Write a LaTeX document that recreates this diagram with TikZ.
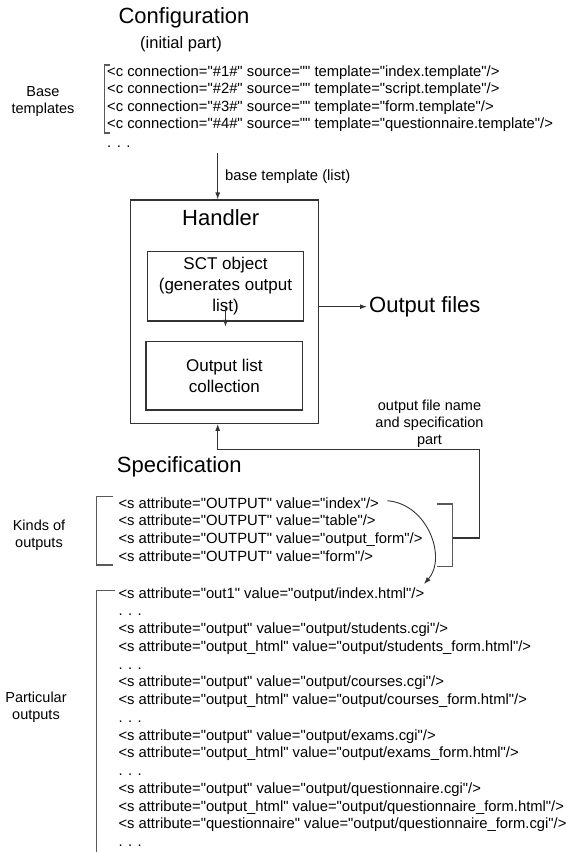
\documentclass[tikz,border=0pt]{standalone}
\usepackage{fontspec}
\setmainfont{Liberation Sans}[Ligatures=TeXOff]
\usetikzlibrary{arrows.meta}
\begin{document}
\begin{tikzpicture}[x=1pt,y=-1pt,
  ln/.style={draw=black!80, line width=1.1pt},
  arr/.style={ln, -{Latex[length=7pt,width=5pt]}},
  code/.style={anchor=base west, inner sep=0pt, font=\fontsize{14.8}{17.75}\selectfont},
  lbl/.style={align=center, inner sep=0pt, font=\fontsize{14.5}{17}\selectfont},
  big/.style={inner sep=0pt, font=\fontsize{22}{26}\selectfont},
  box/.style={ln, align=center, inner sep=0pt}
]
\useasboundingbox[fill=white] (0,0) rectangle (567,852);

% ---------- Configuration ----------
\node[big] (conf) at (184,18) {Configuration};
\node[inner sep=0pt, font=\fontsize{16.5}{20}\selectfont] (init) at (181,44) {(initial part)};

\node[lbl] (baselbl) at (43,102) {Base\\templates};
\draw[ln, draw=black!65] (110,65) -- (104.3,65) -- (104.3,133) -- (110,133);
\node[code] (b1) at (107,76) {<c connection="\#1\#" source="" template="index.template"/>};
\node[code] (b2) at (107,93.5) {<c connection="\#2\#" source="" template="script.template"/>};
\node[code] (b3) at (107,111) {<c connection="\#3\#" source="" template="form.template"/>};
\node[code] (b4) at (107,128.5) {<c connection="\#4\#" source="" template="questionnaire.template"/>};
\node[code] (b5) at (107,147.5) {. . .};

% ---------- Handler ----------
\coordinate (bt) at (217.7,153);
\node[box, minimum width=187.6pt, minimum height=223.3pt] (handler) at (224.5,311.65) {};
\node[big] (hlbl) at (220.7,218) {Handler};
\node[box, minimum width=156.4pt, minimum height=69.3pt, font=\fontsize{17}{20.8}\selectfont] (sct) at (225.5,286.35) {SCT object\\(generates output\\list)};
\node[box, minimum width=156.7pt, minimum height=68.3pt, font=\fontsize{17}{20.8}\selectfont] (ol) at (224.35,375.85) {Output list\\collection};
\draw[arr] (bt) -- (bt |- handler.north);
\node[code] (btl) at (225,180) {base template (list)};
\draw[arr] ([yshift=14.3pt]sct.south) -- ([yshift=14.3pt]sct.south |- ol.north);

\node[big, anchor=west, inner sep=2pt] (outf) at (367,306.7) {Output files};
\draw[arr] (handler.east |- outf.west) -- (outf.west);

\node[lbl] (ofn) at (429.5,424) {output file name\\and specification\\part};

% ---------- Specification ----------
\node[big, anchor=west] (spec) at (116.7,467) {Specification};

\node[lbl] (kindlbl) at (39,535.5) {Kinds of\\outputs};
\draw[ln, draw=black!65] (113,496.7) -- (96.7,496.7) -- (96.7,565) -- (113,565);
\node[code] (k1) at (118.3,508) {<s attribute="OUTPUT" value="index"/>};
\node[code] (k2) at (118.3,525.75) {<s attribute="OUTPUT" value="table"/>};
\node[code] (k3) at (118.3,543.5) {<s attribute="OUTPUT" value="output\_form"/>};
\node[code] (k4) at (118.3,561.25) {<s attribute="OUTPUT" value="form"/>};

\draw[ln, draw=black!65] (437,504) -- (452.7,504) -- (452.7,566.7) -- (437,566.7);
\coordinate (rb) at (452.7,538);
\coordinate (fb) at (479.3,449.3);
\draw[arr] (rb) -- (rb -| fb) -- (fb) -- (fb -| bt) -- (bt |- handler.south);

\coordinate (cs) at (387.3,500.7);
\coordinate (ce) at (424,584);
\draw[arr, line width=0.9pt] (cs) .. controls (428,504) and (447,558) .. (ce);

\node[lbl] (partlbl) at (36,707.5) {Particular\\outputs};
\draw[ln, draw=black!65] (115,590.7) -- (96.7,590.7) -- (96.7,853);
\node[code] (p1) at (118.3,598) {<s attribute="out1" value="output/index.html"/>};
\node[code] (p2) at (118.3,615.75) {. . .};
\node[code] (p3) at (118.3,633.5) {<s attribute="output" value="output/students.cgi"/>};
\node[code] (p4) at (118.3,651.25) {<s attribute="output\_html" value="output/students\_form.html"/>};
\node[code] (p5) at (118.3,669) {. . .};
\node[code] (p6) at (118.3,686.75) {<s attribute="output" value="output/courses.cgi"/>};
\node[code] (p7) at (118.3,704.5) {<s attribute="output\_html" value="output/courses\_form.html"/>};
\node[code] (p8) at (118.3,722.25) {. . .};
\node[code] (p9) at (118.3,740) {<s attribute="output" value="output/exams.cgi"/>};
\node[code] (p10) at (118.3,757.75) {<s attribute="output\_html" value="output/exams\_form.html"/>};
\node[code] (p11) at (118.3,775.5) {. . .};
\node[code] (p12) at (118.3,793.25) {<s attribute="output" value="output/questionnaire.cgi"/>};
\node[code] (p13) at (118.3,811) {<s attribute="output\_html" value="output/questionnaire\_form.html"/>};
\node[code] (p14) at (118.3,828.75) {<s attribute="questionnaire" value="output/questionnaire\_form.cgi"/>};
\node[code] (p15) at (118.3,846.5) {. . .};
\end{tikzpicture}
\end{document}
